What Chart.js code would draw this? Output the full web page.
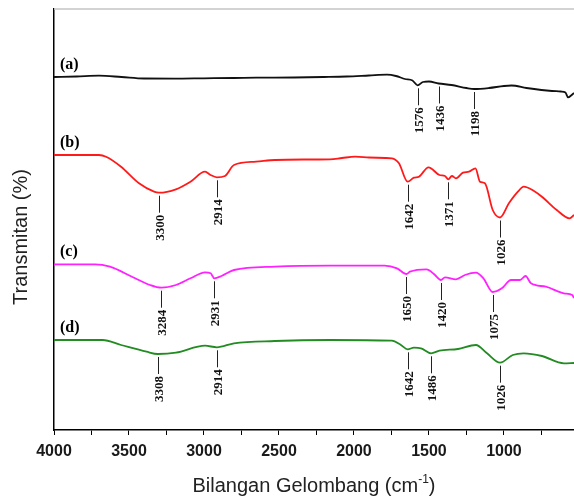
<!DOCTYPE html>
<html>
<head>
<meta charset="utf-8">
<script src="https://cdn.jsdelivr.net/npm/chart.js@4"></script>
<style>
  body { margin: 0; background: #fff; }
  canvas { display: block; }
</style>
</head>
<body>
<canvas id="spektrum_ftir" width="574" height="497"></canvas>
<script>
// spektrum (a)
const gelombang_a = [4000, 3850, 3700, 3550, 3400, 3200, 3000, 2800, 2650, 2400, 2200, 2050, 1900, 1780, 1720, 1660, 1610, 1576, 1540, 1500, 1436, 1350, 1250, 1198, 1100, 1000, 950, 850, 750, 680, 620, 590, 573, 533];
const transmitan_a = [353, 353.5, 354.3, 353, 351.5, 351.4, 351.7, 352, 352.3, 352.5, 353, 353.5, 354.5, 355.3, 354, 351, 349.5, 344.7, 348, 348.5, 346.5, 345, 342, 341, 342, 344, 344.5, 342, 340, 339, 338.5, 337.5, 332.7, 337];

// spektrum (b)
const gelombang_b = [4000, 3700, 3653, 3553, 3433, 3333, 3300, 3187, 3090, 2993, 2956, 2914, 2860, 2800, 2653, 2527, 2300, 2160, 2080, 1993, 1900, 1790, 1747, 1700, 1642, 1600, 1567, 1503, 1430, 1393, 1371, 1347, 1320, 1273, 1233, 1190, 1160, 1127, 1075, 1026, 967, 907, 868, 800, 747, 648, 563, 533];
const transmitan_b = [275, 275, 273.3, 263.3, 246.7, 238.3, 237.3, 240.7, 248.3, 258.3, 255, 252.7, 254, 265, 268.3, 270, 270.5, 270.7, 272, 273.3, 272.5, 272, 271.7, 266.7, 248.3, 252.3, 253.3, 262.7, 255, 254, 250.7, 254, 251.7, 257.3, 258.3, 261.7, 248.3, 246.7, 220, 212.5, 226.7, 238.3, 243.3, 239, 233.3, 220, 211.7, 215];

// spektrum (c)
const gelombang_c = [4000, 3727, 3627, 3480, 3360, 3284, 3187, 3090, 2993, 2956, 2931, 2883, 2800, 2527, 2160, 1796, 1713, 1650, 1627, 1516, 1467, 1420, 1393, 1320, 1260, 1187, 1137, 1075, 1014, 953, 893, 856, 820, 721, 600, 545, 533];
const transmitan_c = [165.7, 165.7, 163.3, 153.3, 145, 142.3, 145, 151.7, 157.7, 156.7, 151.7, 154, 160, 163.3, 164.3, 164.3, 161.7, 156, 158.3, 160.7, 156, 150, 152.7, 150.7, 155, 157.3, 151.7, 138, 141.7, 150, 150, 154, 146.7, 143.3, 136.7, 135, 132];

// spektrum (d)
const gelombang_d = [4000, 3676, 3553, 3383, 3308, 3187, 2993, 2914, 2800, 2527, 2160, 1747, 1687, 1642, 1600, 1553, 1486, 1430, 1307, 1187, 1113, 1026, 941, 868, 747, 600, 533];
const transmitan_d = [90, 90, 85, 78.3, 76, 77.3, 84.3, 82.7, 86.7, 89, 90, 89.3, 85, 80.7, 82.3, 81.7, 76.7, 79.3, 81, 85, 76.7, 67.3, 75, 76.7, 74, 66.7, 67];

// puncak yang ditandai
const puncak_a = [1576, 1436, 1198];
const puncak_b = [3300, 2914, 1642, 1371, 1026];
const puncak_c = [3284, 2931, 1650, 1420, 1075];
const puncak_d = [3308, 2914, 1642, 1486, 1026];

// tik sumbu x (label hanya tiap 500)
const tik_x = [4000, 3750, 3500, 3250, 3000, 2750, 2500, 2250, 2000, 1750, 1500, 1250, 1000, 750];

const label_spektrum = ['(a)', '(b)', '(c)', '(d)'];
const warna_spektrum = ['#111111', '#ff1a1a', '#ff22ff', '#228b22'];

const spektrum = [
    { tag: label_spektrum[0], w: gelombang_a, t: transmitan_a, p: puncak_a },
    { tag: label_spektrum[1], w: gelombang_b, t: transmitan_b, p: puncak_b },
    { tag: label_spektrum[2], w: gelombang_c, t: transmitan_c, p: puncak_c },
    { tag: label_spektrum[3], w: gelombang_d, t: transmitan_d, p: puncak_d }
];

function nilai_di(w, t, x) {
    for (let i = 0; i < w.length - 1; i++) {
        if (x <= w[i] && x >= w[i + 1]) {
            const f = (w[i] - x) / (w[i] - w[i + 1]);
            return t[i] + f * (t[i + 1] - t[i]);
        }
    }
    return t[t.length - 1];
}

const plugin_anotasi = {
    id: 'anotasi',
    afterDatasetsDraw(chart) {
        const { ctx, chartArea, scales } = chart;
        const sx = scales.x, sy = scales.y;
        ctx.save();

        // garis bingkai atas
        ctx.strokeStyle = '#c4c4c4';
        ctx.lineWidth = 1.5;
        ctx.beginPath();
        ctx.moveTo(chartArea.left, chartArea.top);
        ctx.lineTo(chartArea.right, chartArea.top);
        ctx.stroke();

        spektrum.forEach((s) => {
            const y0 = sy.getPixelForValue(s.t[0]);
            ctx.fillStyle = '#000';
            ctx.font = 'bold 16px "Liberation Serif"';
            ctx.textAlign = 'left';
            ctx.textBaseline = 'middle';
            ctx.fillText(s.tag, chartArea.left + 6, y0 - 12);

            s.p.forEach((p) => {
                const px = Math.round(sx.getPixelForValue(p)) + 0.5;
                const py = sy.getPixelForValue(nilai_di(s.w, s.t, p));
                ctx.strokeStyle = '#222';
                ctx.lineWidth = 1;
                ctx.beginPath();
                ctx.moveTo(px, py + 3);
                ctx.lineTo(px, py + 20);
                ctx.stroke();
                ctx.save();
                ctx.translate(px, py + 22);
                ctx.rotate(-Math.PI / 2);
                ctx.fillStyle = '#111';
                ctx.font = 'bold 13px "Liberation Serif"';
                ctx.textAlign = 'right';
                ctx.textBaseline = 'middle';
                ctx.fillText(String(p), 0, 1);
                ctx.restore();
            });
        });

        // judul sumbu y
        ctx.save();
        ctx.translate(21, 237);
        ctx.rotate(-Math.PI / 2);
        ctx.fillStyle = '#222';
        ctx.font = '20px "Liberation Sans"';
        ctx.textAlign = 'center';
        ctx.textBaseline = 'middle';
        ctx.fillText('Transmitan (%)', 0, 0);
        ctx.restore();

        // judul sumbu x, dengan pangkat -1
        const teks1 = 'Bilangan Gelombang (cm';
        const teks2 = '-1';
        const teks3 = ')';
        ctx.fillStyle = '#222';
        ctx.textBaseline = 'alphabetic';
        ctx.textAlign = 'left';
        ctx.font = '20px "Liberation Sans"';
        const w1 = ctx.measureText(teks1).width;
        const w3 = ctx.measureText(teks3).width;
        ctx.font = '12px "Liberation Sans"';
        const w2 = ctx.measureText(teks2).width;
        const cx = (chartArea.left + chartArea.right) / 2;
        let xx = cx - (w1 + w2 + w3) / 2;
        const by = 492;
        ctx.font = '20px "Liberation Sans"';
        ctx.fillText(teks1, xx, by);
        xx += w1;
        ctx.font = '12px "Liberation Sans"';
        ctx.fillText(teks2, xx, by - 9);
        xx += w2;
        ctx.font = '20px "Liberation Sans"';
        ctx.fillText(teks3, xx, by);

        ctx.restore();
    }
};

const data_spektrum = {
    datasets: spektrum.map((s, i) => ({
        label: s.tag,
        data: s.w.map((w, j) => ({ x: w, y: s.t[j] })),
        borderColor: warna_spektrum[i],
        borderWidth: 1.8,
        pointRadius: 0,
        cubicInterpolationMode: 'monotone',
        fill: false
    }))
};

const config_spektrum = {
    type: 'line',
    data: data_spektrum,
    options: {
        responsive: false,
        devicePixelRatio: 1,
        animation: false,
        layout: { padding: { top: 9, left: 0, right: 0, bottom: 0 } },
        plugins: {
            legend: { display: false },
            tooltip: { enabled: false }
        },
        scales: {
            x: {
                type: 'linear',
                reverse: true,
                min: 533,
                max: 4000,
                afterBuildTicks: (scale) => { scale.ticks = tik_x.map((v) => ({ value: v })); },
                afterFit: (scale) => { scale.height = 67; },
                ticks: {
                    autoSkip: false,
                    maxRotation: 0,
                    padding: 7,
                    color: '#1a1a1a',
                    font: { family: '"Liberation Sans"', size: 16, weight: 'bold' },
                    callback: (v) => (v % 500 === 0 ? String(v) : '')
                },
                grid: {
                    display: true,
                    drawOnChartArea: false,
                    drawTicks: true,
                    tickLength: 5,
                    color: '#000'
                },
                border: { display: true, color: '#000', width: 1.5 }
            },
            y: {
                min: 0,
                max: 421,
                afterFit: (scale) => { scale.width = 54; },
                ticks: { display: false },
                grid: { display: false },
                border: { display: true, color: '#000', width: 1.5 }
            }
        }
    },
    plugins: [plugin_anotasi]
};

const grafik_spektrum = new Chart(
    document.getElementById('spektrum_ftir'),
    config_spektrum
);
</script>
</body>
</html>
